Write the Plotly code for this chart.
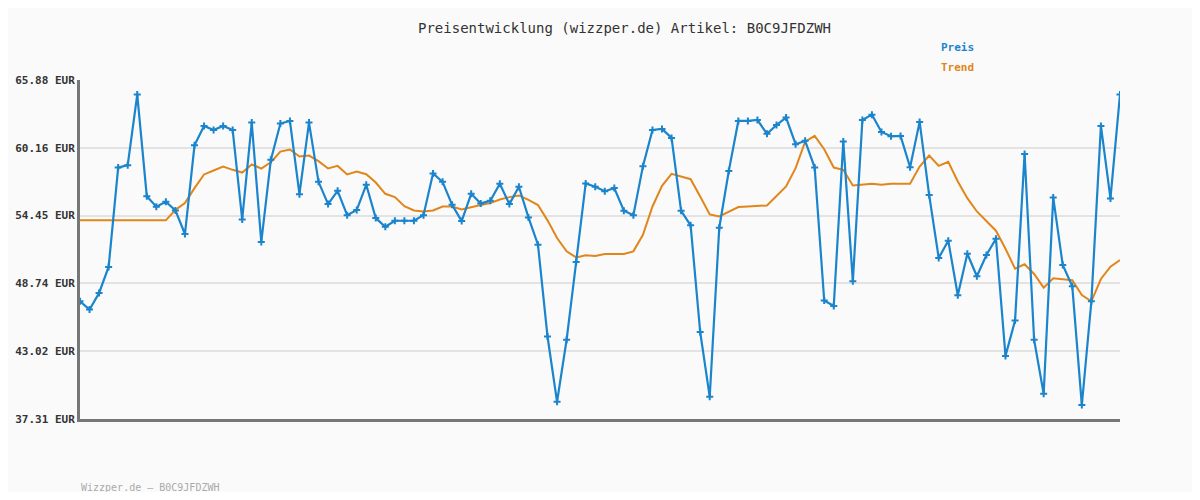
import plotly.graph_objects as go

preis = [47.23,46.53,47.93,50.12,58.50,58.70,64.65,56.09,55.20,55.62,
54.89,52.90,60.38,62.01,61.67,62.01,61.67,54.13,62.29,52.22,
59.15,62.21,62.43,56.26,62.29,57.30,55.42,56.54,54.49,54.92,
57.05,54.24,53.51,54.02,54.02,54.02,54.49,58.00,57.30,55.36,
53.99,56.29,55.48,55.70,57.13,55.42,56.88,54.30,52.00,44.26,
38.76,43.98,50.54,57.16,56.88,56.51,56.77,54.86,54.49,58.62,
61.67,61.76,61.00,54.86,53.63,44.65,39.18,53.43,58.22,62.43,
62.43,62.51,61.34,62.09,62.71,60.47,60.75,58.50,47.29,46.84,
60.69,48.91,62.51,62.96,61.50,61.14,61.17,58.53,62.35,56.18,
50.88,52.34,47.74,51.24,49.34,51.13,52.50,42.63,45.61,59.65,
43.98,39.44,55.98,50.29,48.49,38.48,47.23,62.01,55.90,64.65]

trend = [54.05,54.05,54.05,54.05,54.05,54.05,54.05,54.05,54.05,54.05,
54.94,55.50,56.77,57.92,58.25,58.59,58.31,58.08,58.76,58.42,
58.95,59.85,60.02,59.43,59.51,59.04,58.42,58.64,57.92,58.17,
57.94,57.24,56.29,56.01,55.25,54.89,54.80,54.89,55.22,55.22,
54.97,55.17,55.34,55.50,55.81,56.01,56.15,55.78,55.34,54.05,
52.56,51.44,50.93,51.10,51.05,51.21,51.21,51.21,51.44,52.84,
55.22,56.96,57.97,57.75,57.52,56.06,54.55,54.38,54.75,55.17,
55.22,55.25,55.31,56.10,56.91,58.45,60.69,61.17,60.05,58.50,
58.31,56.99,57.07,57.13,57.05,57.13,57.13,57.13,58.59,59.51,
58.64,58.98,57.33,55.92,54.80,53.96,53.18,51.66,49.98,50.35,
49.53,48.38,49.17,49.08,49.00,47.76,47.23,49.11,50.15,50.71]

ticks = [37.31, 43.02, 48.74, 54.45, 60.16, 65.88]
tick_labels = [f"{t:.2f} EUR" for t in ticks]
x = list(range(len(preis)))

BLUE = "#1a84cc"
ORANGE = "#e0861a"
FONT = "DejaVu Sans Mono"
OFF = 8  # page body margin
W, H = 1200 - 2*OFF, 500 - 2*OFF
L, R, T, B = 80 - OFF, W - (1120 - OFF), 80 - OFF, H - (419 - OFF)

fig = go.Figure()
fig.add_trace(go.Scatter(x=x, y=trend, mode="lines", line=dict(color=ORANGE, width=2), hoverinfo="skip"))
fig.add_trace(go.Scatter(x=x, y=preis, mode="lines+markers", line=dict(color=BLUE, width=2.2),
                         marker=dict(symbol="cross-thin", size=5, color=BLUE, line=dict(color=BLUE, width=2))))

pw, ph = W - L - R, H - T - B
def px(xp): return (xp - OFF - L) / pw
def py(yp): return (H - B - (yp - OFF)) / ph

fig.update_layout(
    width=W, height=H, showlegend=False,
    paper_bgcolor="#fafafa", plot_bgcolor="#fafafa",
    margin=dict(l=L, r=R, t=T, b=B, autoexpand=False),
    xaxis=dict(range=[0, len(preis)-1], showgrid=False, showticklabels=False, zeroline=False,
               showline=True, linecolor="#777", linewidth=3, ticks="", automargin=False),
    yaxis=dict(range=[37.31, 65.88], tickvals=ticks, ticktext=[f"<b>{t}</b>" for t in tick_labels],
               showgrid=True, gridcolor="#e3e3e3", gridwidth=2, zeroline=False, automargin=False,
               showline=True, linecolor="#777", linewidth=3, ticks="",
               tickfont=dict(family=FONT, size=11, color="#333")),
    annotations=[
        dict(text="Preisentwicklung (wizzper.de) Artikel: B0C9JFDZWH", x=px(624), y=py(28),
             font=dict(family=FONT, size=14, color="#333")),
        dict(text="<b>Preis</b>", x=px(939), y=py(47),
             font=dict(family=FONT, size=11, color=BLUE), xanchor="left"),
        dict(text="<b>Trend</b>", x=px(939), y=py(67),
             font=dict(family=FONT, size=11, color=ORANGE), xanchor="left"),
        dict(text="Wizzper.de – B0C9JFDZWH", x=px(79), y=py(487),
             font=dict(family=FONT, size=10, color="#aaa"), xanchor="left"),
    ],
)
for a in fig.layout.annotations:
    a.xref = "paper"; a.yref = "paper"; a.showarrow = False; a.yanchor = "middle"

fig.write_html("out.html")
